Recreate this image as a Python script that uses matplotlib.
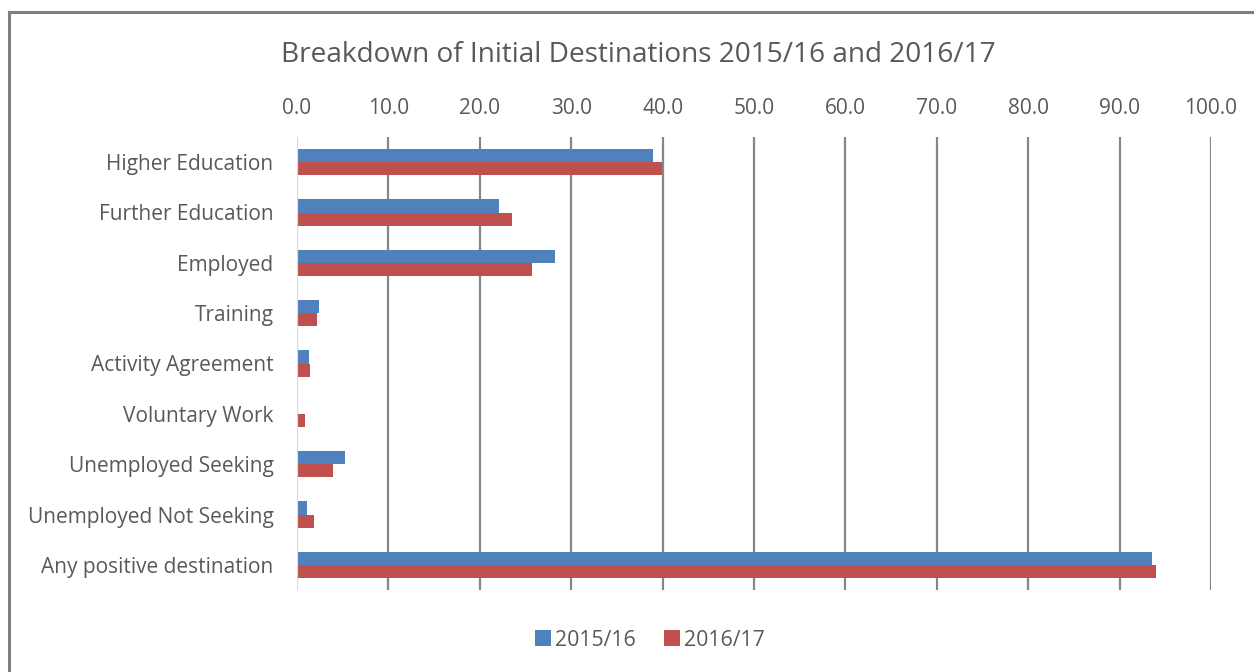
import matplotlib
matplotlib.use("Agg")
import matplotlib.pyplot as plt
from matplotlib.patches import Patch
from matplotlib.lines import Line2D
import numpy as np

categories = ["Higher Education", "Further Education", "Employed", "Training",
              "Activity Agreement", "Voluntary Work", "Unemployed Seeking",
              "Unemployed Not Seeking", "Any positive destination"]
series_2015 = [38.9, 22.1, 28.2, 2.4, 1.3, 0.0, 5.3, 1.1, 93.5]
series_2016 = [39.9, 23.5, 25.7, 2.2, 1.4, 0.9, 3.9, 1.9, 94.0]
series_names = ["2015/16", "2016/17"]
xticks = [0, 10, 20, 30, 40, 50, 60, 70, 80, 90, 100]

plt.rcParams['font.family'] = ['Open Sans', 'DejaVu Sans']
txt = "#595959"
blue = "#4F81BD"
red = "#C0504D"

fig = plt.figure(figsize=(12.54, 6.72), dpi=100)
W, H = 1254, 672
ax = fig.add_axes([297 / W, 82 / H, (1211 - 297) / W, (590 - 137) / H])

y = np.arange(len(categories))
h = 0.26
ax.barh(y - h / 2, series_2015, height=h, color=blue, zorder=3)
ax.barh(y + h / 2, series_2016, height=h, color=red, zorder=3)
ax.set_ylim(len(categories) - 0.5, -0.5)
ax.set_xlim(0, 100)

ax.set_yticks(y)
ax.set_yticklabels(categories, fontsize=15, color=txt)
ax.tick_params(axis='y', length=0, pad=17)

ax.xaxis.tick_top()
ax.set_xticks(xticks)
ax.set_xticklabels([f"{v:.1f}" for v in xticks], fontsize=15, color=txt)
ax.tick_params(axis='x', length=0, pad=13)

for v in xticks[1:]:
    ax.axvline(v, color="#868686", lw=1.6, zorder=1)
ax.axvline(0, color="#D9D9D9", lw=1.6, zorder=4)
for s in ax.spines.values():
    s.set_visible(False)

fig.text(638 / W, 1 - 55 / H, "Breakdown of Initial Destinations 2015/16 and 2016/17",
         ha='center', va='center', fontsize=20.2, color=txt)

handles = [Patch(facecolor=blue), Patch(facecolor=red)]
fig.legend(handles, series_names, loc='center', bbox_to_anchor=(650 / W, 1 - 640 / H),
           ncol=2, frameon=False, fontsize=15.3, labelcolor=txt,
           handlelength=0.75, handleheight=0.75, handletextpad=0.2, columnspacing=1.3)

fig.add_artist(Line2D([9 / W, 9 / W], [0, 1 - 12 / H], color="#7F7F7F", lw=2.2,
                      transform=fig.transFigure))
fig.add_artist(Line2D([9 / W, 1], [1 - 12 / H, 1 - 12 / H], color="#7F7F7F", lw=2.2,
                      transform=fig.transFigure))

fig.savefig("out.png", dpi=100, facecolor="white")
